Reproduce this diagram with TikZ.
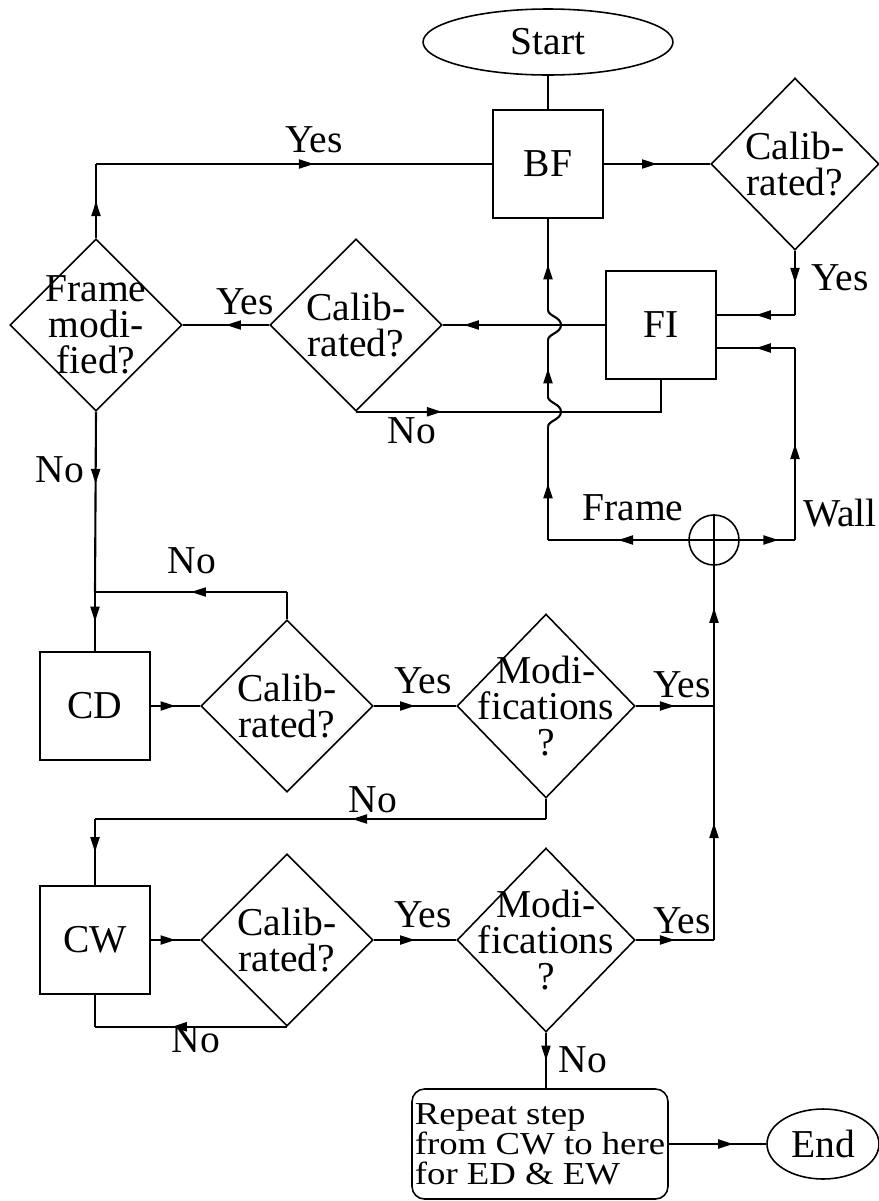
\documentclass[tikz,border=0pt]{standalone}
\usepackage{fontspec}
\setmainfont{Liberation Serif}
\newfontfamily\widefont[FakeStretch=1.15]{Liberation Serif}
\newcommand{\repfont}{\widefont\fontsize{18.2}{17.2}\selectfont\setlength{\lineskiplimit}{-20pt}}
\usetikzlibrary{shapes.geometric, arrows.meta, decorations.markings, calc}

\begin{document}
\begin{tikzpicture}[x=0.02cm, y=-0.02cm, line width=1.2pt,
    font=\fontsize{22.5}{20.5}\selectfont,
    every node/.append style={inner sep=0pt},
    process/.style={rectangle, draw, line width=0.9pt, minimum width=2.2cm, minimum height=2.16cm},
    decision/.style={diamond, draw, line width=0.9pt, inner sep=-0.35cm, minimum width=3.44cm, minimum height=3.44cm, align=center},
    modbox/.style={decision, minimum width=3.56cm, minimum height=3.68cm},
    terminal/.style={ellipse, draw, line width=0.9pt},
    arrowat/.style={decoration={markings, mark=at position #1 with {\arrow{Triangle[length=0.3cm, width=0.18cm]}}}, postaction={decorate}},
    midarrow/.style={arrowat=0.5}]

        \useasboundingbox (0,0) rectangle (879,1201);

        % 1. Nodes (top part)
        \node[terminal, minimum width=5cm, minimum height=1.32cm] (start) at (548,42) {Start};
        \node[process] (bf) at (548,164) {BF};
        \node[decision, minimum width=3.36cm] (cal1) at (795,164) {Calib-\\rated?};
        \node[process] (fi) at (661,325) {FI};
        \node[decision] (cal2) at (356,325) {Calib-\\rated?};
        \node[decision] (frm) at (96,325) {Frame\\modi-\\fied?};
        \node[circle, draw, line width=0.9pt, minimum size=1cm] (sum) at (714,540) {};

        % 2. Nodes (CD and CW rows)
        \node[process] (cd) at (95,706) {CD};
        \node[decision] (cal3) at (287,706) {Calib-\\rated?};
        \node[modbox] (mod1) at (546,706) {Modi-\\fications\\?};
        \node[process] (cw) at (95,940) {CW};
        \node[decision] (cal4) at (287,940) {Calib-\\rated?};
        \node[modbox] (mod2) at (546,940) {Modi-\\fications\\?};
        \node[draw, line width=0.9pt, rounded corners=0.25cm, minimum width=5.12cm, minimum height=2.2cm, align=left,
              font=\repfont] (rep) at (540,1144)
              {Repeat step\\from CW to here\\for ED \& EW};
        \node[terminal, minimum width=2.24cm, minimum height=1.4cm] (endn) at (823,1144) {End};

        % 3. Helper coordinates
        \coordinate (fiin1) at ([yshift=0.2cm]fi.east);
        \coordinate (fiin2) at ([yshift=-0.46cm]fi.east);
        \coordinate (fj) at (bf.south |- sum.west);
        \coordinate (wj) at (cal1.south |- sum.east);
        \coordinate (x1) at (bf.south |- fi.west);
        \coordinate (x2) at (bf.south |- cal2.south);
        \coordinate (cj) at (95,592);
        \coordinate (mj) at (mod1.south |- 0,819);
        \coordinate (y1) at (sum |- mod1.east);
        \coordinate (y2) at (sum |- mod2.east);

        % 4. Top loop
        \draw (start.south) -- (bf.north);
        \draw[midarrow] (bf.east) -- (cal1.west);
        \draw[midarrow] (cal1.south) -- (cal1.south |- fiin1);
        \draw[midarrow] (cal1.south |- fiin1) -- (fiin1);
        \draw[arrowat=0.87] (fi.west) -- (cal2.east);
        \draw[midarrow] (cal2.west) -- (frm.east);
        \draw[arrowat=0.255] (cal2.south) -| (fi.south);
        \draw[midarrow] (frm.north) -- (frm.north |- bf.west);
        \draw[arrowat=0.55] (frm.north |- bf.west) -- (bf.west);

        % 5. Frame / Wall split
        \draw (sum.north) -- (sum.south);
        \draw (sum.west) -- (sum.east);
        \draw[midarrow] (sum.west) -- (fj);
        \draw[arrowat=0.7] (sum.east) -- (wj);
        \draw[midarrow] (wj) -- (wj |- fiin2);
        \draw[midarrow] (wj |- fiin2) -- (fiin2);
        \draw[midarrow] (fj) -- ([yshift=-0.3cm]x2);
        \draw ([yshift=-0.3cm]x2) .. controls +(0pt,0.12cm) and +(0pt,-0.16cm) .. ([xshift=0.26cm]x2)
              .. controls +(0pt,0.16cm) and +(0pt,-0.12cm) .. ([yshift=0.3cm]x2);
        \draw[midarrow] ([yshift=0.3cm]x2) -- ([yshift=-0.3cm]x1);
        \draw ([yshift=-0.3cm]x1) .. controls +(0pt,0.12cm) and +(0pt,-0.16cm) .. ([xshift=0.26cm]x1)
              .. controls +(0pt,0.16cm) and +(0pt,-0.12cm) .. ([yshift=0.3cm]x1);
        \draw[midarrow] ([yshift=0.3cm]x1) -- (bf.south);

        % 6. CD row
        \draw[arrowat=0.4] (frm.south) -- (cj);
        \draw[midarrow] (cj) -- (cd.north);
        \draw (cal3.north) -- (cal3.north |- cj);
        \draw[midarrow] (cal3.north |- cj) -- (cj);
        \draw[midarrow] (cd.east) -- (cal3.west);
        \draw[midarrow] (cal3.east) -- (mod1.west);
        \draw[midarrow] (mod1.east) -- (y1);
        \draw[arrowat=0.7] (y1) -- (sum.south);
        \draw (mod1.south) -- (mj);
        \draw[arrowat=0.43] (mj) -- (cw.north |- mj);
        \draw[midarrow] (cw.north |- mj) -- (cw.north);

        % 7. CW row
        \draw[midarrow] (cw.east) -- (cal4.west);
        \draw[midarrow] (cal4.east) -- (mod2.west);
        \draw[midarrow] (mod2.east) -- (y2);
        \draw[midarrow] (y2) -- (y1);
        \draw[arrowat=0.6] (cal4.south) -- (cal4.south -| cw.south);
        \draw (cal4.south -| cw.south) -- (cw.south);
        \draw[midarrow] (mod2.south) -- (mod2.south |- rep.north);
        \draw[arrowat=0.66] (rep.east) -- (endn.west);

        % 8. Labels
        \node (ly1) at (314,140) {Yes};
        \node (ly2) at (840,278) {Yes};
        \node (ly3) at (245,302) {Yes};
        \node (ln1) at (412,431) {No};
        \node (ln2) at (60,470) {No};
        \node (lframe) at (633,508) {Frame};
        \node (lwall) at (840,513) {Wall};
        \node (ln3) at (192,561) {No};
        \node (ly4) at (423,681) {Yes};
        \node (ly5) at (682,685) {Yes};
        \node (ln4) at (373,800) {No};
        \node (ly6) at (423,915) {Yes};
        \node (ly7) at (682,921) {Yes};
        \node (ln5) at (196,1040) {No};
        \node (ln6) at (583,1060) {No};

    \end{tikzpicture}
\end{document}
